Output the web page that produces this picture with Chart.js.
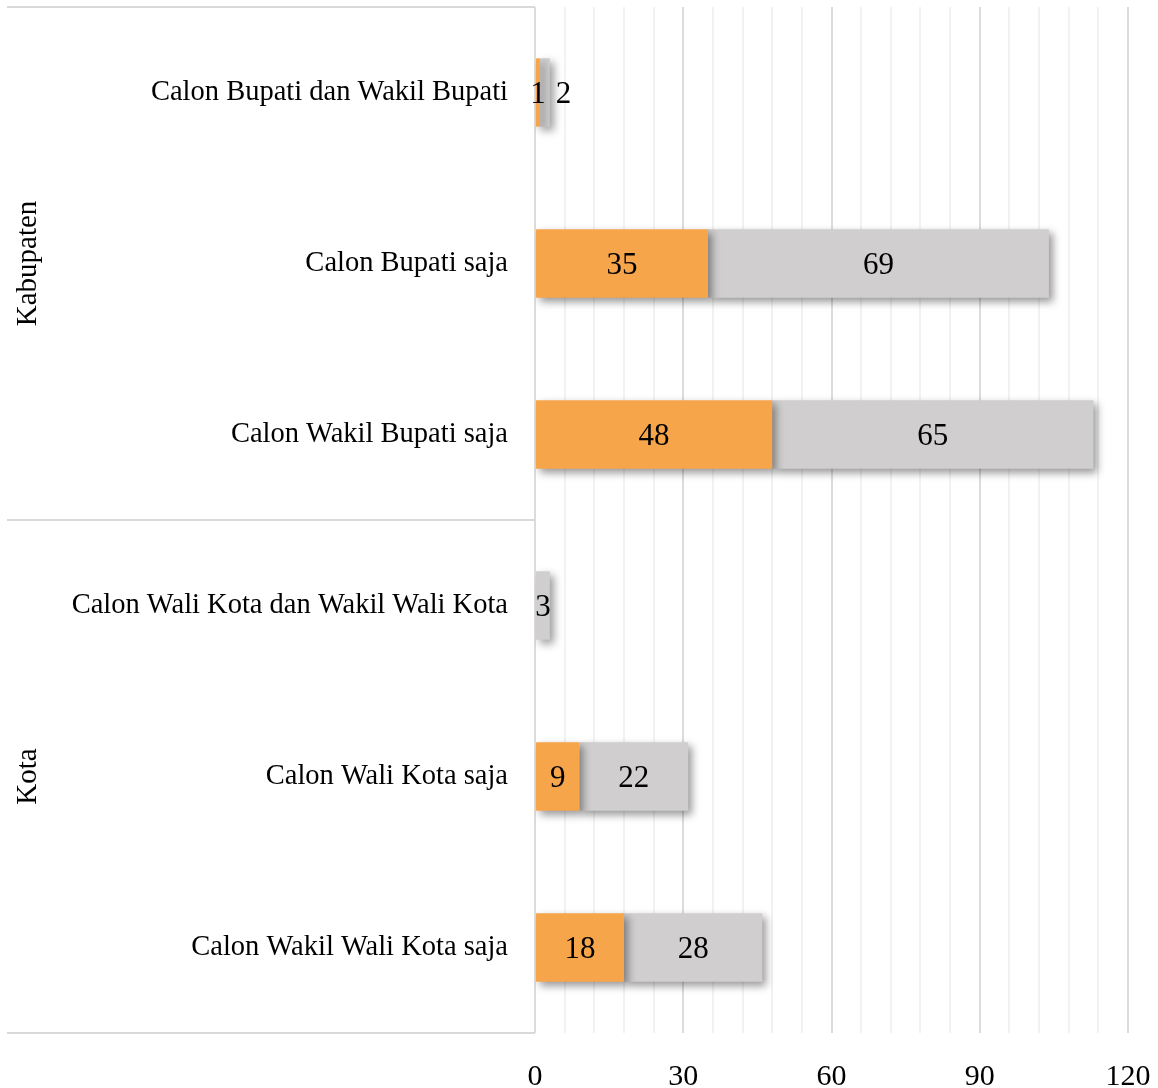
<!DOCTYPE html>
<html>
<head>
<meta charset="utf-8">
<script src="https://cdn.jsdelivr.net/npm/chart.js@4/dist/chart.umd.min.js"></script>
<style>
    html, body { margin: 0; padding: 0; background: #ffffff; }
    #wrap { width: 1158px; height: 1088px; position: relative; }
</style>
</head>
<body>
<div id="wrap"><canvas id="calonChart"></canvas></div>
<script>
// --- Datos ---
const categories = [
    'Calon Bupati dan Wakil Bupati',
    'Calon Bupati saja',
    'Calon Wakil Bupati saja',
    'Calon Wali Kota dan Wakil Wali Kota',
    'Calon Wali Kota saja',
    'Calon Wakil Wali Kota saja'
];
const groupNames = ['Kabupaten', 'Kota'];
const groupSizes = [3, 3];
const orangeValues = [1, 35, 48, null, 9, 18];
const greyValues = [2, 69, 65, 3, 22, 28];
const xTickLabels = [0, 30, 60, 90, 120];

const FONT = "'Liberation Serif', 'Times New Roman', serif";

// --- Etiquetas de grupo y líneas separadoras a la izquierda ---
const groupAxisPlugin = {
    id: 'groupAxis',
    afterDraw(chart) {
        const ctx = chart.ctx;
        const y = chart.scales.y;
        const left = 7;
        const right = chart.chartArea.left;
        ctx.save();
        ctx.strokeStyle = '#D9D9D9';
        ctx.lineWidth = 2;
        let start = 0;
        const lines = [y.getPixelForValue(-0.5)];
        groupNames.forEach((name, i) => {
            const end = start + groupSizes[i];
            const top = y.getPixelForValue(start - 0.5);
            const bottom = y.getPixelForValue(end - 0.5);
            lines.push(bottom);
            ctx.save();
            ctx.translate(28, (top + bottom) / 2);
            ctx.rotate(-Math.PI / 2);
            ctx.fillStyle = '#000000';
            ctx.font = '29px ' + FONT;
            ctx.textAlign = 'center';
            ctx.textBaseline = 'middle';
            ctx.fillText(name, 0, 0);
            ctx.restore();
            start = end;
        });
        lines.forEach(py => {
            ctx.beginPath();
            ctx.moveTo(left, Math.round(py));
            ctx.lineTo(right, Math.round(py));
            ctx.stroke();
        });
        ctx.restore();
    }
};

// --- Sombra de las barras ---
const shadowPlugin = {
    id: 'barShadow',
    beforeDatasetDraw(chart) {
        const ctx = chart.ctx;
        ctx.save();
        ctx.shadowColor = 'rgba(0, 0, 0, 0.4)';
        ctx.shadowBlur = 8;
        ctx.shadowOffsetX = 4;
        ctx.shadowOffsetY = 4;
    },
    afterDatasetDraw(chart) {
        chart.ctx.restore();
    }
};

// --- Etiquetas de datos centradas ---
const dataLabelPlugin = {
    id: 'dataLabels',
    afterDatasetsDraw(chart) {
        const ctx = chart.ctx;
        ctx.save();
        ctx.font = '31px ' + FONT;
        ctx.fillStyle = '#000000';
        ctx.textAlign = 'center';
        ctx.textBaseline = 'middle';
        const lastRight = {};
        chart.data.datasets.forEach((ds, di) => {
            const meta = chart.getDatasetMeta(di);
            meta.data.forEach((bar, i) => {
                const v = ds.data[i];
                if (v === null || v === undefined) return;
                const text = String(v);
                const w = ctx.measureText(text).width;
                let cx = (bar.x + bar.base) / 2;
                if (lastRight[i] !== undefined && cx - w / 2 < lastRight[i] + 10) {
                    cx = lastRight[i] + 10 + w / 2;
                }
                lastRight[i] = cx + w / 2;
                ctx.fillText(text, cx, bar.y + 2);
            });
        });
        ctx.restore();
    }
};

const ctx = document.getElementById('calonChart').getContext('2d');
new Chart(ctx, {
    type: 'bar',
    data: {
        labels: categories,
        datasets: [{
            label: 'A',
            data: orangeValues,
            backgroundColor: '#F7A54A',
            borderWidth: 0,
            categoryPercentage: 1,
            barPercentage: 0.4
        }, {
            label: 'B',
            data: greyValues,
            backgroundColor: '#D0CECE',
            borderWidth: 0,
            categoryPercentage: 1,
            barPercentage: 0.4
        }]
    },
    options: {
        indexAxis: 'y',
        responsive: true,
        maintainAspectRatio: false,
        animation: false,
        layout: { padding: { top: 7, right: 30, bottom: 0, left: 0 } },
        plugins: {
            legend: { display: false },
            tooltip: { enabled: false }
        },
        scales: {
            x: {
                stacked: true,
                min: 0,
                max: 120,
                border: { display: false },
                grid: {
                    drawTicks: false,
                    lineWidth: 2,
                    color: c => (c.tick && c.tick.value % 30 === 0) ? '#DCDCDC' : '#F2F2F2'
                },
                ticks: {
                    stepSize: 6,
                    autoSkip: false,
                    maxRotation: 0,
                    padding: 26,
                    color: '#000000',
                    font: { size: 30, family: FONT },
                    callback: v => xTickLabels.includes(v) ? String(v) : ''
                },
                afterFit: s => {
                    s.height = 55;
                    s.paddingLeft = 0;
                    s.paddingRight = 0;
                }
            },
            y: {
                stacked: true,
                border: { display: false },
                grid: { display: false, drawTicks: false },
                ticks: {
                    padding: 27,
                    color: '#000000',
                    font: { size: 28.5, family: FONT }
                },
                afterFit: s => {
                    s.width = 535;
                    s.paddingTop = 0;
                    s.paddingBottom = 0;
                }
            }
        }
    },
    plugins: [shadowPlugin, dataLabelPlugin, groupAxisPlugin]
});
</script>
</body>
</html>
